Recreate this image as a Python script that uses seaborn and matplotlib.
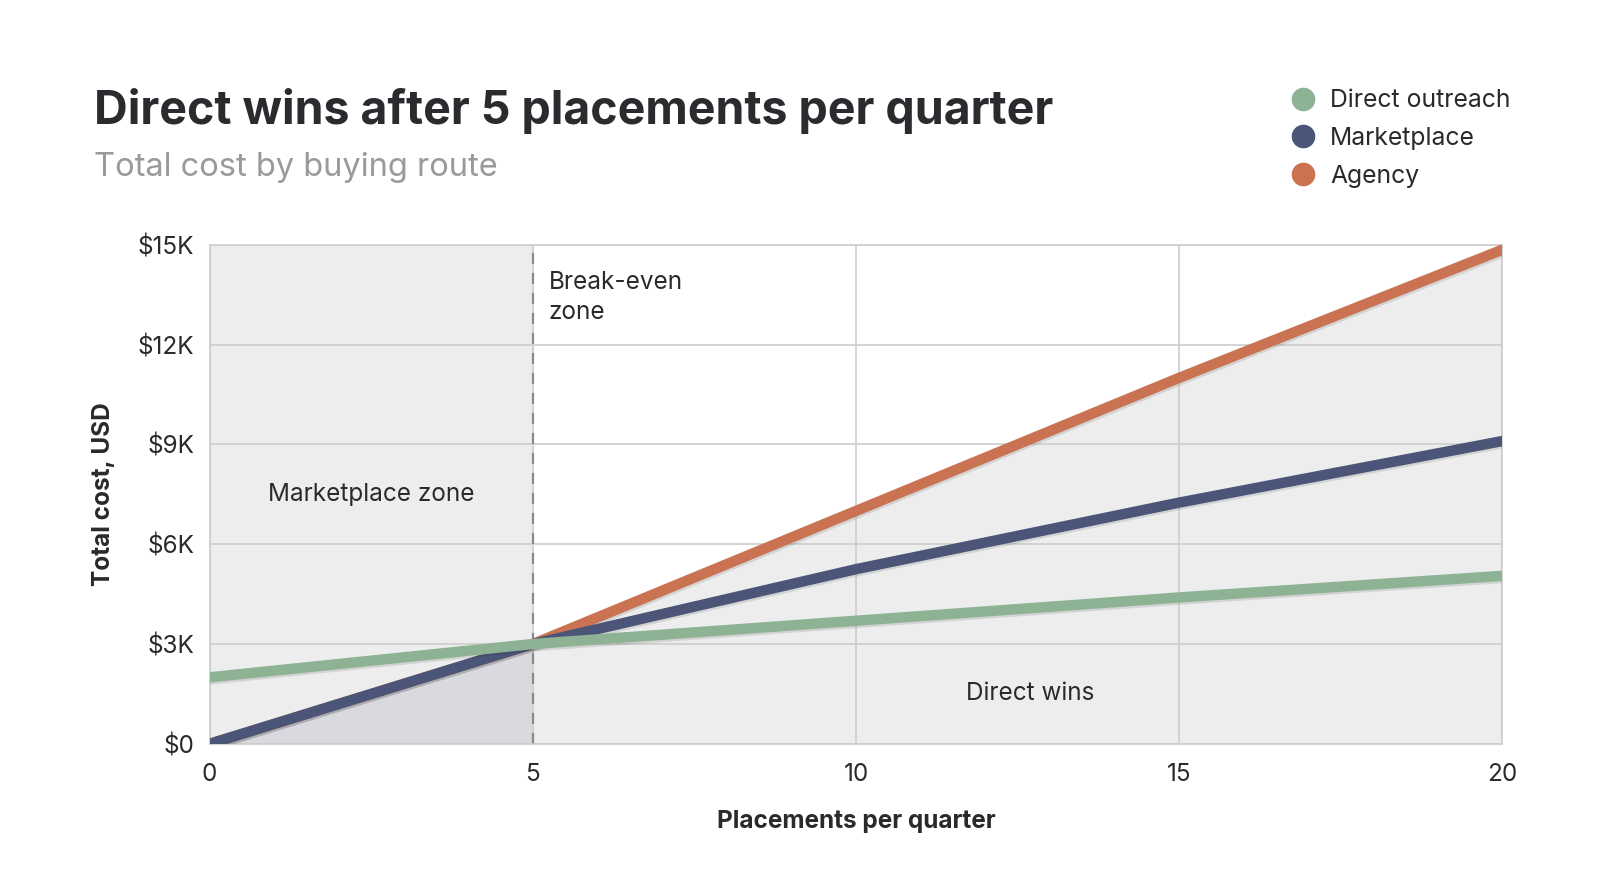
import numpy as np
import pandas as pd
import seaborn as sns
import matplotlib.pyplot as plt
import matplotlib.patheffects as pe
from matplotlib.lines import Line2D

# data
placements = [0, 5, 10, 15, 20]
direct_outreach = [2000, 3000, 3700, 4400, 5050]
marketplace = [0, 3000, 5250, 7250, 9100]
agency = [0, 3000, 7000, 11000, 14850]

routes = ["Direct outreach", "Marketplace", "Agency"]
colors = ["#8db394", "#4a5578", "#c97352"]
y_ticks = [0, 3000, 6000, 9000, 12000, 15000]
y_labels = ["$0", "$3K", "$6K", "$9K", "$12K", "$15K"]
x_ticks = [0, 5, 10, 15, 20]

df = pd.DataFrame({
    "Placements": placements * 3,
    "Cost": direct_outreach + marketplace + agency,
    "Route": [r for r in routes for _ in placements],
})

sns.set_theme(style="white")
plt.rcParams["font.family"] = ["Inter", "DejaVu Sans"]

fig = plt.figure(figsize=(16, 8.93), dpi=100)
ax = fig.add_axes([0.131, 0.167, 0.808, 0.559])
ax.set_facecolor("#ededed")

# white area above agency after break-even, darker wedge before it
ax.fill_between(placements[1:], agency[1:], 15000, color="white", zorder=0.2, lw=0)
ax.fill_between(placements[:2], 0, marketplace[:2], color="#d9dadf", zorder=0.2, lw=0)

ax.axvline(5, color="#8a8a8a", lw=1.6, ls=(0, (5, 4)), zorder=1.5)

sns.lineplot(data=df, x="Placements", y="Cost", hue="Route", hue_order=routes[::-1],
             palette=dict(zip(routes, colors)), linewidth=7.5, legend=False, ax=ax,
             zorder=3)
for ln in ax.lines[1:]:
    ln.set_solid_capstyle("round")
    ln.set_path_effects([pe.SimpleLineShadow(offset=(1, -1.5), alpha=0.12), pe.Normal()])

ax.set_xlim(0, 20)
ax.set_ylim(0, 15000)
ax.set_xticks(x_ticks)
ax.set_yticks(y_ticks)
ax.set_yticklabels(y_labels)
ax.grid(True, color="#cdcdcd", lw=1.2)
ax.set_axisbelow(True)
for s in ax.spines.values():
    s.set_color("#cdcdcd")
    s.set_linewidth(1.2)
ax.tick_params(axis="both", length=0, labelsize=17.5, colors="#2a2a2a")
ax.tick_params(axis="y", pad=11)
ax.tick_params(axis="x", pad=14)

ax.set_xlabel("Placements per quarter", fontsize=17.5, fontweight="bold", color="#2a2a2a", labelpad=17)
ax.set_ylabel("Total cost, USD", fontsize=17.5, fontweight="bold", color="#2a2a2a", labelpad=16)

ax.text(2.5, 7500, "Marketplace zone", ha="center", va="center", fontsize=17.5, color="#2a2a2a")
ax.text(5.25, 14200, "Break-even\nzone", ha="left", va="top", fontsize=17.5, color="#2a2a2a",
        linespacing=1.35)
ax.text(12.7, 1500, "Direct wins", ha="center", va="center", fontsize=17.5, color="#2a2a2a")

fig.text(0.059, 0.861, "Direct wins after 5 placements per quarter", fontsize=33.5,
         fontweight="bold", color="#2a2b2e", va="baseline")
fig.text(0.059, 0.803, "Total cost by buying route", fontsize=23.5, color="#9a9a9a", va="baseline")

handles = [Line2D([], [], marker="o", ls="", markersize=16, color=c) for c in colors]
fig.legend(handles, routes, loc="upper left", bbox_to_anchor=(0.785, 0.925), frameon=False,
           fontsize=17.8, handletextpad=0.1, labelspacing=0.6, labelcolor="#2a2a2a")

fig.savefig("out.png", dpi=100, facecolor="white")
